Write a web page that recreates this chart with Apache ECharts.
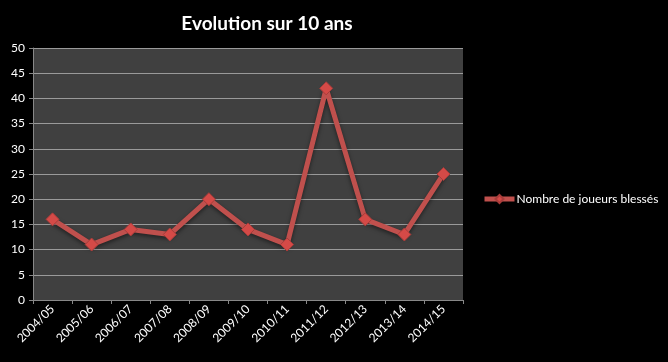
<!DOCTYPE html>
<html><head><meta charset="utf-8">
<script src="https://cdn.jsdelivr.net/npm/echarts@6/dist/echarts.min.js"></script>
<style>html,body{margin:0;padding:0;background:#000}#c{width:668px;height:362px}</style>
</head><body><div id="c"></div>
<script>
const categories = ['2004/05','2005/06','2006/07','2007/08','2008/09','2009/10','2010/11','2011/12','2012/13','2013/14','2014/15'];
const values = [16, 11, 14, 13, 20, 14, 11, 42, 16, 13, 25];
const seriesName = 'Nombre de joueurs blessés';
const titleText = 'Evolution sur 10 ans';

const chart = echarts.init(document.getElementById('c'));
chart.setOption({
  backgroundColor: '#000',
  animation: false,
  title: {
    text: titleText, left: 262, top: 9, textAlign: 'center',
    textStyle: {color: '#fff', fontFamily: 'Lato', fontWeight: 'bold', fontSize: 19}
  },
  legend: {
    data: [seriesName],
    left: 482, top: 193, padding: 0, itemWidth: 30, itemHeight: 10, itemGap: 2,
    itemStyle: {color: '#d44a47'},
    lineStyle: {width: 5, color: '#c0504d'},
    textStyle: {color: '#fff', fontFamily: 'Lato', fontSize: 12, padding: [0, 0, 0, -3]}
  },
  grid: {left: 33, right: 205, top: 48, bottom: 62, show: true, backgroundColor: '#404040', borderWidth: 0},
  xAxis: {
    type: 'category', data: categories, boundaryGap: true,
    axisLine: {lineStyle: {color: '#888'}},
    axisTick: {show: true, alignWithLabel: false, length: 4, lineStyle: {color: '#888'}},
    axisLabel: {color: '#fff', rotate: 45, fontFamily: 'Lato', fontSize: 12, margin: 7, interval: 0}
  },
  yAxis: {
    type: 'value', min: 0, max: 50, interval: 5,
    axisLine: {show: true, lineStyle: {color: '#888'}},
    axisTick: {show: true, length: 4, lineStyle: {color: '#888'}},
    axisLabel: {color: '#fff', fontFamily: 'Lato', fontSize: 12, margin: 8},
    splitLine: {lineStyle: {color: '#9a9a9a', width: 1}}
  },
  series: [{
    name: seriesName, type: 'line', data: values,
    symbol: 'diamond', symbolSize: 13,
    lineStyle: {color: '#c0504d', width: 5, shadowColor: 'rgba(0,0,0,0.5)', shadowBlur: 4, shadowOffsetY: 2},
    itemStyle: {color: '#d44a47', borderColor: '#a83c3a', borderWidth: 1},
    emphasis: {disabled: true}
  }]
});
</script></body></html>
